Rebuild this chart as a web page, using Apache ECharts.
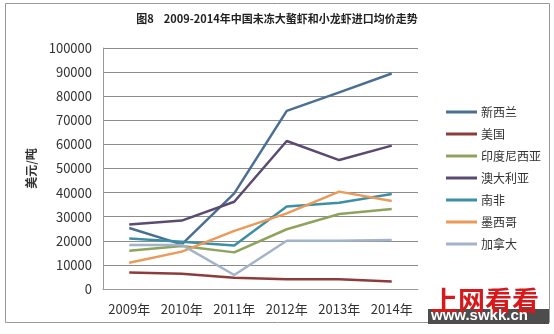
<!DOCTYPE html>
<html>
<head>
<meta charset="utf-8">
<script src="https://cdn.jsdelivr.net/npm/echarts@6/dist/echarts.min.js"></script>
<style>
html,body{margin:0;padding:0;background:#fff;}
#chart{width:554px;height:334px;}
</style>
</head>
<body>
<div id="chart"></div>
<script>
// Years on the category axis
const years = ['2009年', '2010年', '2011年', '2012年', '2013年', '2014年'];

// Average import price (USD per tonne) by origin
const newZealand = [25300, 18500, 39700, 73900, 81600, 89400];
const usa        = [6800, 6300, 4700, 4000, 4000, 3100];
const indonesia  = [15900, 17800, 15200, 24800, 31100, 33200];
const australia  = [26800, 28400, 36200, 61400, 53500, 59500];
const southAfrica= [21000, 19600, 18000, 34200, 35800, 39400];
const mexico     = [10900, 15500, 24100, 31400, 40400, 36500];
const canada     = [18300, 18300, 5800, 20000, 20000, 20300];

const seriesNames = ['新西兰', '美国', '印度尼西亚', '澳大利亚', '南非', '墨西哥', '加拿大'];
const seriesData = [newZealand, usa, indonesia, australia, southAfrica, mexico, canada];
const colors = ['#4a6f93', '#8e3b3b', '#8ea35c', '#5b4a72', '#3d8fa6', '#eb9a5a', '#a3b3c9'];

const yTicks = [0, 10000, 20000, 30000, 40000, 50000, 60000, 70000, 80000, 90000, 100000];

const font = '"Noto Sans CJK SC", "Liberation Sans", sans-serif';

const chart = echarts.init(document.getElementById('chart'), null, {renderer: 'canvas'});
chart.setOption({
  animation: false,
  backgroundColor: '#fff',
  color: colors,
  title: {
    text: '图8    2009-2014年中国未冻大螯虾和小龙虾进口均价走势',
    left: 'center',
    top: 8,
    textStyle: {fontSize: 11, fontWeight: 'bold', color: '#222', fontFamily: font}
  },
  grid: {left: 103, right: 136, top: 48, bottom: 45},
  legend: {
    orient: 'vertical',
    left: 441,
    top: 101,
    itemWidth: 31,
    itemHeight: 3,
    itemGap: 10,
    icon: 'rect',
    textStyle: {fontSize: 12, color: '#333', fontFamily: font, padding: [0, 0, 0, -1]},
    data: seriesNames
  },
  xAxis: {
    type: 'category',
    data: years,
    boundaryGap: true,
    axisLine: {lineStyle: {color: '#999'}},
    axisTick: {show: false},
    axisLabel: {color: '#333', fontSize: 13, fontFamily: font, margin: 14, interval: 0, hideOverlap: false}
  },
  yAxis: {
    type: 'value',
    min: yTicks[0],
    max: yTicks[yTicks.length - 1],
    interval: 10000,
    name: '美元/吨',
    nameLocation: 'middle',
    nameGap: 62,
    nameRotate: 90,
    nameTextStyle: {fontSize: 12, fontWeight: 'bold', color: '#333', fontFamily: font},
    axisLine: {show: true, lineStyle: {color: '#999'}},
    axisTick: {show: false},
    axisLabel: {color: '#333', fontSize: 13, fontFamily: font, margin: 11,
      formatter: v => String(v)},
    splitLine: {lineStyle: {color: '#8c8c8c', width: 1}}
  },
  series: seriesNames.map((name, i) => ({
    name,
    type: 'line',
    data: seriesData[i],
    symbol: 'none',
    lineStyle: {width: 2.5, color: colors[i]},
    itemStyle: {color: colors[i]}
  })),
  graphic: [
    {
      type: 'rect', silent: true, z: -1,
      shape: {x: 5.5, y: 3.5, width: 544, height: 319},
      style: {fill: 'none', stroke: '#999', lineWidth: 1}
    },
    {
      type: 'text', left: 431, top: 287, z: 10,
      style: {text: '上网看看', fontSize: 27, fontWeight: 'bold', fill: '#d8191c', fontFamily: font}
    },
    {
      type: 'rect', z: 9,
      shape: {x: 428, y: 309, width: 121, height: 15},
      style: {fill: '#4d4d4d'}
    },
    {
      type: 'text', left: 431, top: 308, z: 10,
      style: {text: 'www.swkk.cn', fontSize: 15, fontWeight: 'bold', fill: '#fff', fontFamily: '"Liberation Sans", Arial, sans-serif'}
    }
  ]
});
</script>
</body>
</html>
